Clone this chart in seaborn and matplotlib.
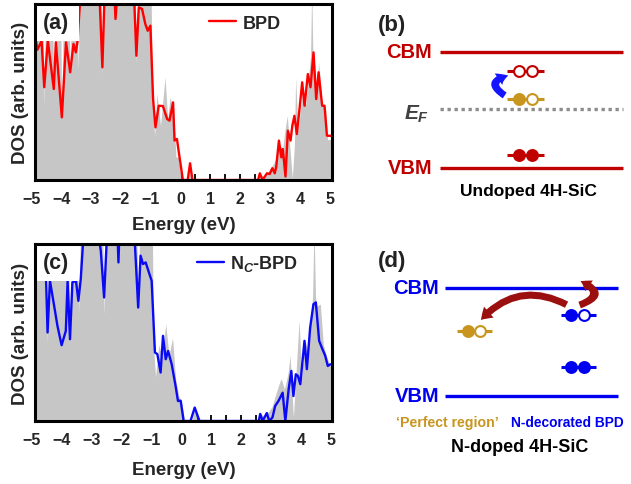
import numpy as np
import pandas as pd
import matplotlib
matplotlib.use("Agg")
import matplotlib.pyplot as plt
import seaborn as sns
from matplotlib.patches import FancyArrowPatch, Rectangle
from matplotlib.ticker import MultipleLocator

# ---------------- data: panel (a) ----------------
e_tot_a = [-5.00, -4.62, -4.57, -4.52, -4.30, -4.25, -4.20, -4.03, -3.98, -3.92, -3.75, -3.70, -3.65,
           -3.48, -3.43, -3.38, -2.67, -2.62, -2.57, -2.23, -2.18, -2.13, -1.53, -1.48, -1.43, -0.99,
           -0.94, -0.87, -0.79, -0.67, -0.52, -0.43, -0.35, -0.24, -0.15, -0.07, 0.02, 0.20, 0.32, 0.40,
           2.60, 2.66, 2.80, 2.95, 3.13, 3.21, 3.30, 3.43, 3.50, 3.58, 3.66, 3.75, 3.82, 3.86, 3.94,
           4.03, 4.10, 4.20, 4.29, 4.36, 4.40, 4.44, 4.48, 4.55, 4.63, 4.75, 4.86, 4.93, 5.15]
dos_tot_a = [11, 11, 4.2, 11, 11, 5.0, 11, 11, 3.5, 11, 11, 5.9, 11,
             11, 6.2, 11, 11, 6.0, 11, 11, 9.0, 11, 11, 6.6, 11, 11,
             4.5, 2.5, 4.9, 3.1, 5.85, 3.5, 4.7, 4.0, 1.3, 1.3, 0, 0, 0.9, 0,
             0, 0.3, 0.2, 0.5, 0.95, 1.3, 2.0, 1.8, 2.8, 3.65, 2.0, 0.1, 2.0, 5.83, 2.8,
             4.1, 5.0, 4.3, 5.8, 7.0, 11, 7.0, 6.5, 4.6, 6.7, 4.3, 4.1, 2.3, 2.3]

e_bpd = [-5.00, -4.80, -4.66, -4.57, -4.45, -4.25, -4.18, -3.98, -3.84, -3.70, -3.59, -3.51, -3.45,
         -3.34, -2.73, -2.62, -2.54, -2.23, -2.18, -2.10, -1.57, -1.48, -1.40, -1.29, -1.18, -1.10,
         -1.01, -0.92, -0.84, -0.73, -0.59, -0.45, -0.37, -0.25, -0.20, -0.12, -0.04, 0.08, 0.24,
         0.32, 0.40, 2.60, 2.66, 2.75, 2.90, 2.99, 3.08, 3.16, 3.21, 3.30, 3.38, 3.43, 3.52, 3.60,
         3.69, 3.75, 3.82, 3.90, 3.99, 4.08, 4.16, 4.27, 4.36, 4.46, 4.55, 4.63, 4.75, 4.83, 4.91, 5.15]
dos_bpd = [9.5, 7.4, 7.9, 5.27, 7.92, 5.17, 7.82, 3.56, 7.82, 6.12, 7.73, 7.25, 7.92,
           11, 11, 6.40, 11, 11, 9.15, 11, 11, 7.06, 9.81, 9.72, 8.86, 8.48,
           8.77, 4.60, 2.99, 4.22, 4.20, 3.47, 3.37, 4.41, 2.24, 2.33, 1.38, 0, 0,
           0.95, 0, 0, 0.38, 0, 0.38, 0.34, 0.67, 0.38, 0.76, 2.24, 1.29, 1.76, 0.2, 2.8,
           2.24, 3.09, 3.65, 2.61, 4.03, 5.55, 4.22, 6.02, 5.27, 7.25, 4.60, 6.12, 4.22, 4.22, 2.52, 2.5]

# ---------------- data: panel (c) ----------------
e_tot_c = [-5.00, -4.55, -4.50, -4.45, -3.78, -3.73, -3.68, -3.48, -3.43, -3.38, -2.64, -2.59, -2.54,
           -2.15, -2.11, -2.07, -1.50, -1.45, -1.40, -0.98, -0.93, -0.87, -0.76, -0.65, -0.53, -0.42,
           -0.30, -0.20, -0.09, 0.02, 0.10, 0.36, 0.44, 0.52, 2.58, 2.63, 2.75, 2.90, 3.02, 3.13, 3.24,
           3.33, 3.44, 3.56, 3.63, 3.74, 3.82, 3.93, 4.02, 4.11, 4.23, 4.30, 4.38, 4.43, 4.48, 4.52,
           4.64, 4.74, 4.86, 4.97, 5.15]
dos_tot_c = [11, 11, 4.3, 11, 11, 4.4, 11, 11, 6.1, 11, 11, 6.0, 11,
             11, 8.9, 11, 11, 6.6, 11, 11, 4.0, 2.5, 4.3, 3.6, 5.5, 3.7,
             4.7, 2.4, 1.4, 0.9, 0, 0, 0.8, 0, 0, 0.4, 0.3, 0.5, 0.8, 1.4, 2.0,
             2.4, 1.8, 2.7, 3.7, 0.2, 2.5, 5.7, 2.4, 4.6, 4.0, 5.5, 7.0, 11, 7.0, 6.5,
             6.6, 4.3, 3.6, 3.1, 3.1]

e_nc = [-5.00, -4.60, -4.53, -4.48, -4.40, -4.26, -4.15, -4.01, -3.87, -3.81, -3.73, -3.65, -3.53,
        -3.45, -3.37, -3.26, -2.81, -2.70, -2.59, -2.48, -2.15, -2.11, -2.07, -1.59, -1.45, -1.37,
        -1.29, -1.20, -1.11, -1.00, -0.89, -0.81, -0.70, -0.62, -0.53, -0.45, -0.33, -0.20, -0.12,
        -0.03, 0.07, 0.30, 0.44, 0.60, 2.58, 2.63, 2.71, 2.85, 2.93, 3.04, 3.13, 3.24, 3.38, 3.47,
        3.58, 3.67, 3.74, 3.82, 3.89, 3.97, 4.11, 4.19, 4.30, 4.41, 4.49, 4.60, 4.71, 4.80, 4.89,
        4.97, 5.15]
dos_nc = [9.5, 8.5, 8.02, 5.00, 7.92, 6.51, 5.38, 4.28, 5.09, 7.92, 4.62, 7.83, 7.92,
          6.79, 8.02, 11, 11, 9.61, 6.98, 11, 11, 8.96, 11, 11, 6.41, 9.34,
          8.87, 8.96, 8.49, 7.92, 3.87, 3.78, 2.74, 4.81, 3.49, 3.96, 3.21, 1.98, 1.13,
          1.15, 0, 0, 0.76, 0, 0, 0.40, 0, 0.45, 0, 0.2, 0.85, 1.13, 1.60, 0,
          1.79, 2.83, 1.41, 2.64, 2.55, 2.08, 4.53, 2.93, 5.28, 6.60, 6.70, 4.53, 4.06, 3.70, 3.11,
          3.20, 3.2]

xticks = [-5, -4, -3, -2, -1, 0, 1, 2, 3, 4, 5]
xtick_labels = ["\u22125", "\u22124", "\u22123", "\u22122", "\u22121", "0", "1", "2", "3", "4", "5"]

# ---------------- style ----------------
sns.set_style("white")
plt.rcParams["font.family"] = ["Liberation Sans", "DejaVu Sans"]
plt.rcParams["font.weight"] = "bold"
plt.rcParams["axes.labelweight"] = "bold"
plt.rcParams["mathtext.fontset"] = "custom"
plt.rcParams["mathtext.rm"] = "Liberation Sans:bold"
plt.rcParams["mathtext.it"] = "Liberation Sans:bold:italic"
plt.rcParams["mathtext.bf"] = "Liberation Sans:bold"

GREY = "#c6c6c6"
RED = "#ff0000"
BLUE = "#0a0af5"
DRED = "#c00000"
GOLD = "#c8961e"
DBLUE = "#0000f0"
ARROW = "#9b0f0f"

fig = plt.figure(figsize=(6.31, 4.85), dpi=100)
W, H = 631.0, 485.0


def dos_panel(rect, xlim, e_tot, d_tot, e_line, d_line, color, label, leg_anchor, tag, xlabelpad):
    ax = fig.add_axes(rect)
    ax.fill_between(e_tot, 0, d_tot, color=GREY, lw=0, zorder=1)
    df = pd.DataFrame({"E": e_line, "DOS": d_line})
    sns.lineplot(data=df, x="E", y="DOS", ax=ax, color=color, lw=1.7, label=label,
                 estimator=None, sort=False, zorder=3)
    ax.set_xlim(*xlim)
    ax.set_ylim(0, 10)
    ax.set_yticks([])
    ax.set_xticks([t for t in xticks if xlim[0] <= t <= xlim[1]])
    ax.set_xticklabels([l for t, l in zip(xticks, xtick_labels) if xlim[0] <= t <= xlim[1]])
    ax.xaxis.set_minor_locator(MultipleLocator(0.5))
    ax.tick_params(axis="x", which="both", direction="in", length=4, width=1.3,
                   pad=8, labelsize=11.5, bottom=True, top=False, color="black")
    for lab in ax.get_xticklabels():
        lab.set_fontweight("bold")
    ax.set_axisbelow(True)
    # tick label for -5 lies just outside the frame
    trans, va, ha = ax.get_xaxis_text1_transform(8)
    ax.text(-5, 0, xtick_labels[0], transform=trans, va=va, ha=ha,
            fontsize=11.5, fontweight="bold", clip_on=False)
    for s in ax.spines.values():
        s.set_linewidth(2.2)
        s.set_color("black")
        s.set_zorder(6)
    ax.set_xlabel("Energy (eV)", fontsize=13.5, fontweight="bold", labelpad=xlabelpad)
    ax.set_ylabel("DOS (arb. units)", fontsize=13.5, fontweight="bold", labelpad=4)
    ax.legend(loc="center left", bbox_to_anchor=leg_anchor, frameon=False, handlelength=1.5,
              handletextpad=0.35, borderpad=0, borderaxespad=0,
              prop={"weight": "bold", "size": 13})
    ax.add_patch(Rectangle((0, 0.79), 0.148, 0.21, transform=ax.transAxes,
                           facecolor="white", edgecolor="none", zorder=4))
    ax.text(0.072, 0.893, tag, transform=ax.transAxes, ha="center", va="center",
            fontsize=15.5, fontweight="bold", color="#222222", zorder=5)
    return ax


ax_a = dos_panel([35 / W, (H - 181) / H, 297 / W, 176 / H], (-4.88, 5.08),
                 e_tot_a, dos_tot_a, e_bpd, dos_bpd, RED, "BPD", (0.587, 0.892), "(a)", 7)
ax_c = dos_panel([35 / W, (H - 422) / H, 297 / W, 177 / H], (-4.90, 5.03),
                 e_tot_c, dos_tot_c, e_nc, dos_nc, BLUE, r"N$_C$-BPD", (0.545, 0.893), "(c)", 10)

# ---------------- schematic panels (b) and (d) ----------------
ax_r = fig.add_axes([340 / W, 0, 291 / W, 1])
ax_r.set_xlim(340, 631)
ax_r.set_ylim(485, 0)
ax_r.axis("off")

# panel (b): undoped
band_b = {"CBM": 53, "VBM": 169}
ef_b = 110
band_x = (440, 623)
# defect levels: (y, x-left, x-right, [(x, filled)], color)
levels_b = [
    (72, 507, 544, [(519, False), (532, False)], DRED),
    (100, 507, 544, [(519, True), (532, False)], GOLD),
    (156, 507, 544, [(519, True), (532, True)], DRED),
]
# panel (d): N-doped
band_d = {"CBM": 289, "VBM": 397}
band_x_d = (445, 618)
levels_d = [
    (316, 561, 596, [(571, True), (584, False)], DBLUE),
    (332, 457, 492, [(468, True), (480, False)], GOLD),
    (368, 561, 596, [(571, True), (584, True)], DBLUE),
]


def draw_levels(levels):
    for y, x0, x1, electrons, col in levels:
        ax_r.plot([x0, x1], [y, y], color=col, lw=2.2, solid_capstyle="butt", zorder=3)
        for x, filled in electrons:
            ax_r.plot([x], [y], marker="o", ms=7.8, mew=1.5, mec=col,
                      mfc=col if filled else "white", zorder=4)


for name, y in band_b.items():
    ax_r.plot(band_x, [y, y], color=DRED, lw=2.4, solid_capstyle="butt", zorder=2)
    ax_r.text(432, y, name, ha="right", va="center", fontsize=14.5, fontweight="bold", color=DRED)
ax_r.plot(band_x, [ef_b, ef_b], color="#8c8c8c", lw=2.4, ls=(0, (1, 1.1)), zorder=2)
ax_r.text(429, 114, r"$E_F$", ha="right", va="center", fontsize=15, color="#404040")
draw_levels(levels_b)
ax_r.add_patch(FancyArrowPatch((507, 98), (511, 76), connectionstyle="arc3,rad=-1.25",
                               arrowstyle="simple,head_length=0.75,head_width=1.0,tail_width=0.5",
                               mutation_scale=10, color="#1414ff", lw=0, zorder=5))
ax_r.text(392, 25, "(b)", ha="center", va="center", fontsize=16, fontweight="bold", color="#222222")
ax_r.text(528, 192, "Undoped 4H-SiC", ha="center", va="center", fontsize=12.5,
          fontweight="bold", color="black")

for name, y in band_d.items():
    ax_r.plot(band_x_d, [y, y], color=DBLUE, lw=2.4, solid_capstyle="butt", zorder=2)
    ax_r.text(439, y, name, ha="right", va="center", fontsize=14.5, fontweight="bold", color=DBLUE)
draw_levels(levels_d)
ax_r.add_patch(FancyArrowPatch((569, 307), (479, 323), connectionstyle="arc3,rad=0.4",
                               arrowstyle="simple,head_length=0.8,head_width=1.05,tail_width=0.5",
                               mutation_scale=10, color=ARROW, lw=0, zorder=6))
ax_r.add_patch(FancyArrowPatch((577, 307), (578, 281), connectionstyle="arc3,rad=1.3",
                               arrowstyle="simple,head_length=0.7,head_width=0.95,tail_width=0.5",
                               mutation_scale=10, color=ARROW, lw=0, zorder=6))
ax_r.text(392, 262, "(d)", ha="center", va="center", fontsize=16, fontweight="bold", color="#222222")
ax_r.text(396, 423, "\u2018Perfect region\u2019", ha="left", va="center", fontsize=10.2,
          fontweight="bold", color=GOLD)
ax_r.text(511, 423, "N-decorated BPD", ha="left", va="center", fontsize=9.9,
          fontweight="bold", color=DBLUE)
ax_r.text(520, 448, "N-doped 4H-SiC", ha="center", va="center", fontsize=13,
          fontweight="bold", color="black")

fig.savefig("out.png", dpi=100)
